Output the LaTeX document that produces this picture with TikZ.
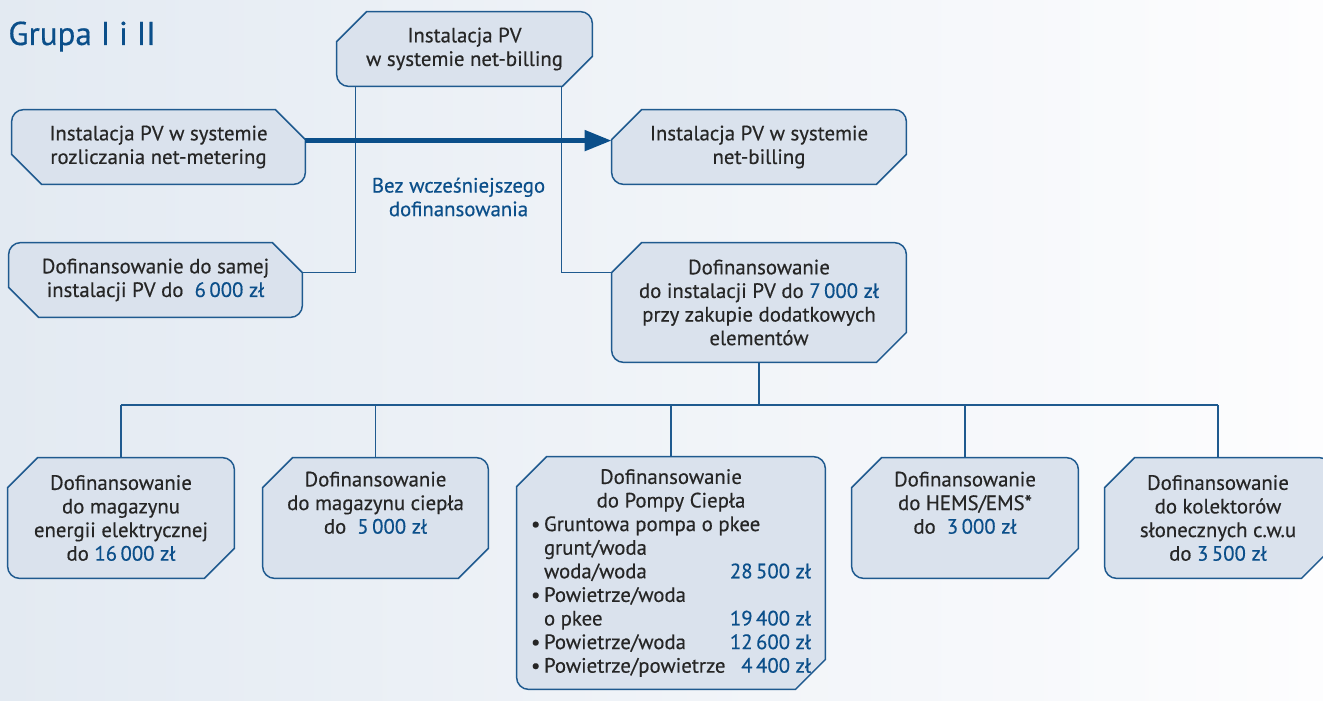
\documentclass[tikz,border=0pt]{standalone}
\usepackage{fontspec}
\setmainfont{PT Sans}[UprightFeatures={FakeBold=0.4}]
\usetikzlibrary{positioning,calc,arrows.meta,backgrounds}

\definecolor{txtgray}{HTML}{262626}
\definecolor{navy}{HTML}{0B4F8A}
\definecolor{edge}{HTML}{1F5A8F}
\definecolor{boxfill}{HTML}{DAE2ED}
\definecolor{bgleft}{HTML}{E3EAF2}
\definecolor{bgright}{HTML}{FDFDFE}

\newcommand\val[1]{\textcolor{navy}{#1}}
\newcommand\chamf{30}
\newcommand\crad{12}
\newcommand\pitem[1]{\makebox[6.5pt][l]{\textbullet}#1}
\newcommand\pcont[1]{\makebox[6.5pt]{}#1}
\newcommand\pline[2]{\hbox to 140pt{#1\hfill\val{#2}}}

% cut corners top left / bottom right
\newcommand\shapeR[1]{%
  \draw[boxline] ($(#1.north west)+(\chamf,0)$) -- ($(#1.north east)+(-\crad,0)$)
    arc[start angle=-90, end angle=0, radius=\crad]
    -- ($(#1.south east)+(0,-\chamf)$) -- ($(#1.south east)+(-\chamf,0)$)
    -- ($(#1.south west)+(\crad,0)$) arc[start angle=90, end angle=180, radius=\crad]
    -- ($(#1.north west)+(0,\chamf)$) -- cycle;}
% cut corners top right / bottom left
\newcommand\shapeL[1]{%
  \draw[boxline] ($(#1.north west)+(\crad,0)$) -- ($(#1.north east)+(-\chamf,0)$)
    -- ($(#1.north east)+(0,\chamf)$) -- ($(#1.south east)+(0,-\crad)$)
    arc[start angle=0, end angle=90, radius=\crad]
    -- ($(#1.south west)+(\chamf,0)$) -- ($(#1.south west)+(0,-\chamf)$)
    -- ($(#1.north west)+(0,\crad)$) arc[start angle=180, end angle=270, radius=\crad]
    -- cycle;}

\tikzset{
  box/.style={inner sep=0pt, align=center, text=txtgray,
    font=\fontsize{10.4}{11.8}\selectfont},
  boxline/.style={draw=edge, fill=boxfill, line width=0.75pt},
  link/.style={draw=edge, line width=0.75pt},
  bigarrow/.style={draw=navy, line width=2.5pt, -{Triangle[length=13.5pt,width=10pt]}},
}

\begin{document}
\begin{tikzpicture}[x=0.5pt, y=-0.5pt]
\useasboundingbox (0,0) rectangle (1323,701);

\node[anchor=base west, inner sep=0pt, text=navy, font=\fontsize{16.5}{18}\selectfont] (title) at (8,45) {Grupa I i II};

% upper part
\node[box, minimum width=127.5pt, minimum height=37pt] (top) at (464.5,49) {Instalacja PV\\w systemie net-billing};
\node[box, minimum width=146.5pt, minimum height=37pt] (meter) at (158.5,147) {Instalacja PV w systemie\\rozliczania net-metering};
\node[box, minimum width=146.5pt, minimum height=37pt] (own) at (155.5,280) {Dofinansowanie do samej\\instalacji PV do\ \ \val{6\,000 zł}};
\node[box, minimum width=147pt, minimum height=37pt] (bill) at (759,147) {Instalacja PV w systemie\\net-billing};
\node[box, minimum width=147pt, minimum height=59.5pt] (extra) at (759,302.5) {Dofinansowanie\\do instalacji PV do \val{7\,000 zł}\\przy zakupie dodatkowych\\elementów};
\node[box, text=navy] (note) at (458.5,197) {Bez wcześniejszego\\dofinansowania};

% lower row
\node[box, minimum width=113pt, minimum height=60pt] (bat) at (121,518) {Dofinansowanie\\do magazynu\\energii elektrycznej\\do \val{16\,000 zł}};
\node[box, minimum width=112.5pt, minimum height=60pt] (heat) at (375.5,518) {Dofinansowanie\\do magazynu ciepła\\do\ \ \val{5\,000 zł}\\\strut};
\node[box, minimum width=154pt, minimum height=116pt] (pump) at (671,573) {Dofinansowanie\\do Pompy Ciepła\\
  \pline{\pitem{Gruntowa pompa o pkee}}{}\\
  \pline{\pcont{grunt/woda}}{}\\
  \pline{\pcont{woda/woda}}{28\,500 zł}\\
  \pline{\pitem{Powietrze/woda}}{}\\
  \pline{\pcont{o pkee}}{19\,400 zł}\\
  \pline{\pitem{Powietrze/woda}}{12\,600 zł}\\
  \pline{\pitem{Powietrze/powietrze}}{4\,400 zł}};
\node[box, minimum width=113pt, minimum height=60pt] (hems) at (965,518) {Dofinansowanie\\do HEMS/EMS*\\do\ \ \val{3\,000 zł}\\\strut};
\node[box, minimum width=113pt, minimum height=60pt] (sol) at (1218,518) {Dofinansowanie\\do kolektorów\\słonecznych c.w.u\\do \val{3\,500 zł}};

\begin{scope}[on background layer]
\shade[left color=bgleft, right color=bgright] (0,0) rectangle (1323,701);
\shapeR{top} \shapeL{meter} \shapeL{own} \shapeR{bill} \shapeR{extra}
\foreach \b in {bat,heat,pump,hems,sol} {\shapeR{\b}}
\end{scope}

% connectors
\coordinate (bus) at (0,405);
\draw[link] ($(top.south west)+(19,0)$) |- ($(own.north east)+(0,\chamf)$);
\draw[link] ($(top.south east)+(-31,0)$) |- ($(extra.north west)+(0,\chamf)$);
\draw[link] (extra.south) -- (extra.south |- bus);
\draw[link] (bat.north |- bus) -- (sol.north |- bus);
\foreach \b in {bat,heat,pump,hems,sol}
  \draw[link] (\b.north) -- (\b.north |- bus);
\draw[bigarrow] ($(meter.north east)+(0,31)$) -- ($(bill.north west)+(0,31)$);

\end{tikzpicture}
\end{document}
